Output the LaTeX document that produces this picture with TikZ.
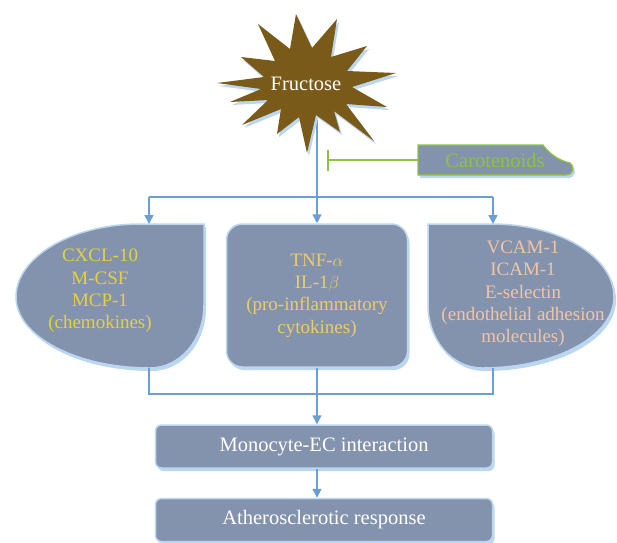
\documentclass[tikz,border=0pt]{standalone}
\usepackage{fontspec}
\setmainfont{Liberation Serif}
\usetikzlibrary{arrows.meta,positioning}
\definecolor{boxgrey}{HTML}{8493AD}
\definecolor{glowblue}{HTML}{BBD6F0}
\definecolor{linkblue}{HTML}{6A9FD6}
\definecolor{fructbrown}{HTML}{7A5A18}
\definecolor{carogreen}{HTML}{8CC43C}
\definecolor{chemyellow}{HTML}{E2D23C}
\definecolor{cytgold}{HTML}{EDCB68}
\definecolor{adhpeach}{HTML}{F2C4A6}

\tikzset{
  glow/.style={preaction={fill=glowblue,transform canvas={xshift=2pt,yshift=-3pt}}},
  blob/.style={fill=boxgrey,draw=glowblue,line width=1.5pt,glow},
  blobtext/.style={align=center,font=\fontsize{19}{22.3}\selectfont},
  stepbox/.style={blob,rectangle,rounded corners=6pt,minimum width=337pt,
    minimum height=43pt,text=white,font=\fontsize{20.5}{24}\selectfont},
  flow/.style={draw=linkblue,line width=1.6pt},
  arrow/.style={flow,-{Triangle[width=9pt,length=9pt]}},
  inhib/.style={draw=carogreen,line width=2pt,-{Bar[width=21pt]}}
}

\begin{document}
\begin{tikzpicture}[x=1pt,y=-1pt]
\useasboundingbox (0,0) rectangle (617,542);

% stem below the star
\coordinate (starfoot) at (317,120);
\coordinate (split) at (317,197);
\coordinate (chemin) at (149,197);
\coordinate (adhin) at (493,197);
\draw[flow] (starfoot) -- (split);
\draw[flow] (chemin) -- (adhin);

% fructose star
\fill[fructbrown,glow] (296,14) -- (312,48) -- (337,19) -- (331,57) -- (367,46)
  -- (347,71) -- (396,73) -- (352,87) -- (387,107) -- (346,104) -- (374,141)
  -- (334,111) -- (340,132) -- (316,115) -- (307,153) -- (299,117) -- (277,134)
  -- (281,109) -- (242,125) -- (268,100) -- (230,102) -- (261,89) -- (217,83)
  -- (264,77) -- (241,57) -- (275,61) -- (258,24) -- (290,49) -- cycle;
\node[text=white,font=\fontsize{20.5}{24}\selectfont] (fructose) at (306,84) {Fructose};

% carotenoids
\node[minimum width=154pt,minimum height=30pt,inner sep=0pt] (caro) at (495,160) {};
\path[blob,draw=carogreen,line width=1.2pt] (418,145) -- (543,145)
  .. controls (552,157) and (562,161) .. (570,163)
  .. controls (575,166) and (574,175) .. (566,175) -- (418,175) -- cycle;
\node[text=carogreen,font=\fontsize{20.5}{24}\selectfont] at (caro) {Carotenoids};
\coordinate (block) at (327,160);
\draw[inhib] (caro.west) -- (block);

% mediators
\path[blob] (204,224) -- (204,305) .. controls (204,340) and (180,368) .. (150,368)
  .. controls (76,368) and (16,336) .. (16,297)
  .. controls (16,257) and (72,224) .. (140,224) -- cycle;
\node[blobtext,text=chemyellow] (chem) at (100,291)
  {CXCL-10\\M-CSF\\MCP-1\\(chemokines)};
\node[blob,rounded corners=16pt,minimum width=181pt,minimum height=143pt,
  blobtext,text=cytgold] (cyt) at (317,295.5)
  {TNF-$\alpha$\\IL-1$\beta$\\(pro-inflammatory\\cytokines)};
\path[blob] (428,224) -- (428,305) .. controls (428,340) and (452,368) .. (482,368)
  .. controls (556,368) and (614,336) .. (614,297)
  .. controls (614,257) and (560,224) .. (492,224) -- cycle;
\node[blobtext,text=adhpeach] (adh) at (523,294)
  {VCAM-1\\ICAM-1\\E-selectin\\(endothelial adhesion\\molecules)};

\coordinate (chemtop) at (149,224);
\coordinate (adhtop) at (493,224);
\coordinate (chemfoot) at (149,368);
\coordinate (adhfoot) at (493,368);
\coordinate (mergel) at (149,394);
\coordinate (merger) at (493,394);

% outcome
\node[stepbox] (mono) at (324,446.5) {Monocyte-EC interaction};
\node[stepbox,below=29pt of mono] (athero) {Atherosclerotic response};

\draw[flow] (chemfoot) -- (mergel) -- (merger) -- (adhfoot);
\draw[arrow] (chemin) -- (chemtop);
\draw[arrow] (split) -- (cyt.north);
\draw[arrow] (adhin) -- (adhtop);
\draw[arrow] (cyt.south) -- (cyt.south |- mono.north);
\draw[arrow] (cyt.south |- mono.south) -- (cyt.south |- athero.north);
\end{tikzpicture}
\end{document}
